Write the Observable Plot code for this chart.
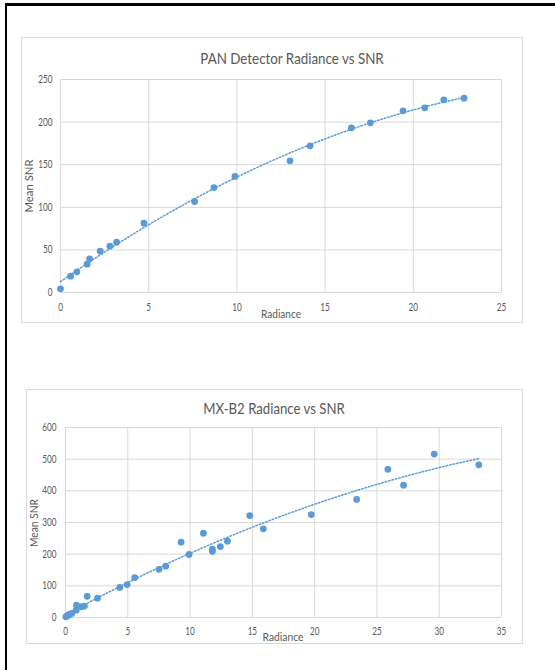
<!DOCTYPE html>
<html>
<head>
<meta charset="utf-8">
<script src="https://cdn.jsdelivr.net/npm/d3@7"></script>
<script src="https://cdn.jsdelivr.net/npm/@observablehq/plot@0.6"></script>
<style>
  html, body { margin: 0; padding: 0; background: #fff; }
  body { width: 555px; height: 670px; position: relative; overflow: hidden;
         font-family: Lato, "Liberation Sans", sans-serif; color: #595959; }
  .abs { position: absolute; }
  .frame { left: 5px; top: 3px; right: -10px; bottom: -10px; border-top: 3px solid #000; border-left: 2px solid #000; }
  .panel { border: 1px solid #d9d9d9; box-sizing: border-box; }
  .title { font-size: 16px; line-height: 16px; white-space: nowrap; }
  .xlab { font-size: 12px; line-height: 12px; white-space: nowrap; }
  .ylab { font-size: 12px; line-height: 12px; white-space: nowrap; }
</style>
</head>
<body>
<div class="abs frame"></div>
<div id="root"></div>
<script>
// ---- Data ----
const panRadiance = [0, 0.57, 0.93, 1.51, 1.65, 2.25, 2.80, 3.18, 4.73, 7.60, 8.70, 9.89, 13.01, 14.15, 16.49, 17.57, 19.42, 20.65, 21.73, 22.88];
const panSNR      = [4.3, 19.2, 24.3, 33.3, 39.5, 48.5, 54.4, 59.1, 81.4, 106.8, 123.2, 136.2, 154.5, 172.1, 193.3, 199.1, 213.2, 216.7, 226.1, 228.1];

const mxRadiance = [0.03, 0.13, 0.25, 0.35, 0.5, 0.86, 0.88, 1.28, 1.52, 1.74, 2.57, 4.36, 4.95, 5.56, 7.51, 8.05, 9.28, 9.92, 11.07, 11.79, 11.79, 12.43, 13.0, 14.79, 15.88, 19.73, 23.37, 25.88, 27.14, 29.6, 33.18];
const mxSNR      = [2, 5, 8, 10, 13, 23, 39, 34, 36, 67, 61, 95, 104, 126, 152, 162, 238, 199, 266, 216, 209, 224, 241, 322, 280, 325, 373, 468, 418, 516, 482];

const panXTicks = [0, 5, 10, 15, 20, 25];
const panYTicks = [0, 50, 100, 150, 200, 250];
const mxXTicks  = [0, 5, 10, 15, 20, 25, 30, 35];
const mxYTicks  = [0, 100, 200, 300, 400, 500, 600];

const titles = ["PAN Detector Radiance vs SNR", "MX-B2 Radiance vs SNR"];
const xLabel = "Radiance";
const yLabel = "Mean SNR";

const FONT = 'Lato, "Liberation Sans", sans-serif';

// ---- Polynomial (order 2) least-squares trendline, computed from data ----
function quadFit(xs, ys) {
  let S = [0,0,0,0,0], T = [0,0,0];
  for (let i = 0; i < xs.length; i++) {
    const x = xs[i], y = ys[i];
    let p = 1;
    for (let k = 0; k < 5; k++) { S[k] += p; if (k < 3) T[k] += p * y; p *= x; }
  }
  const A = [[S[0],S[1],S[2],T[0]],[S[1],S[2],S[3],T[1]],[S[2],S[3],S[4],T[2]]];
  for (let c = 0; c < 3; c++) {
    for (let r = c + 1; r < 3; r++) {
      const f = A[r][c] / A[c][c];
      for (let k = c; k < 4; k++) A[r][k] -= f * A[c][k];
    }
  }
  const b = [0,0,0];
  for (let r = 2; r >= 0; r--) {
    let s = A[r][3];
    for (let k = r + 1; k < 3; k++) s -= A[r][k] * b[k];
    b[r] = s / A[r][r];
  }
  return x => b[0] + b[1] * x + b[2] * x * x;
}

function trend(xs, ys) {
  const f = quadFit(xs, ys);
  const [lo, hi] = d3.extent(xs);
  const n = 120;
  return d3.range(n + 1).map(i => { const x = lo + (hi - lo) * i / n; return {x, y: f(x)}; });
}

// text measuring for condensed look (reference uses a narrow face)
const ctx = document.createElement("canvas").getContext("2d");
function measure(text, size) { ctx.font = size + "px " + FONT; return ctx.measureText(text).width; }
const tickScale = 14.2 / measure("250", 11);

const root = document.getElementById("root");
function addDiv(cls, text, css) {
  const d = document.createElement("div");
  d.className = "abs " + cls;
  if (text) d.textContent = text;
  Object.assign(d.style, css);
  root.appendChild(d);
  return d;
}
// centered text label, horizontally squeezed to a given width
function addLabel(cls, text, cx, cy, size, targetW, rotate) {
  const d = addDiv(cls, text, { left: cx + "px", top: cy + "px" });
  const w = measure(text, size);
  const s = targetW / w;
  if (rotate) {
    d.style.transform = `translate(-50%, -50%) rotate(-90deg) scaleX(${s})`;
  } else {
    d.style.transform = `translate(-50%, -50%) scaleX(${s})`;
  }
  return d;
}

function makeChart(cfg) {
  const data = cfg.xs.map((x, i) => ({x, y: cfg.ys[i]}));
  const chart = Plot.plot({
    width: cfg.w, height: cfg.h,
    marginLeft: cfg.ml, marginRight: cfg.mr, marginTop: cfg.mt, marginBottom: cfg.mb,
    style: { fontFamily: FONT, fontSize: "11px", color: "#595959", background: "transparent", overflow: "visible" },
    x: { domain: [cfg.xTicks[0], cfg.xTicks[cfg.xTicks.length - 1]] },
    y: { domain: [cfg.yTicks[0], cfg.yTicks[cfg.yTicks.length - 1]] },
    marks: [
      Plot.gridX(cfg.xTicks, { stroke: "#d9d9d9", strokeOpacity: 1, strokeWidth: 1 }),
      Plot.gridY(cfg.yTicks, { stroke: "#d9d9d9", strokeOpacity: 1, strokeWidth: 1 }),
      Plot.axisX(cfg.xTicks, { tickSize: 0, tickPadding: cfg.xPad, label: null, fill: "#595959" }),
      Plot.axisY(cfg.yTicks, { tickSize: 0, tickPadding: cfg.yPad, label: null, fill: "#595959" }),
      Plot.line(trend(cfg.xs, cfg.ys), { x: "x", y: "y", stroke: "#5b9bd5", strokeWidth: 1.5, strokeDasharray: "1.5,2", curve: "linear" }),
      Plot.dot(data, { x: "x", y: "y", r: 3.4, fill: "#5b9bd5", stroke: "none" })
    ]
  });
  // squeeze tick labels horizontally around their anchor
  chart.querySelectorAll('g[aria-label$="tick label"] text').forEach(t => {
    const tr = t.getAttribute("transform");
    if (tr) {
      t.setAttribute("transform", tr + ` scale(${tickScale},1)`);
    } else {
      const x = +(t.getAttribute("x") || 0), y = +(t.getAttribute("y") || 0);
      t.setAttribute("transform", `translate(${x},${y}) scale(${tickScale},1) translate(${-x},${-y})`);
    }
  });
  chart.classList.add("abs");
  chart.style.left = cfg.left + "px";
  chart.style.top = cfg.top + "px";
  root.appendChild(chart);
}

// Panel 1
addDiv("panel", null, { left: "21px", top: "37px", width: "502px", height: "286px" });
makeChart({ xs: panRadiance, ys: panSNR, xTicks: panXTicks, yTicks: panYTicks,
  left: 21, top: 37, w: 502, h: 286, ml: 39, mr: 22, mt: 42, mb: 31, xPad: 11, yPad: 8 });
addLabel("title", titles[0], 292, 58, 16, 184);
addLabel("xlab", xLabel, 281, 314, 12, 40);
addLabel("ylab", yLabel, 29, 186, 12, 53, true);

// Panel 2
addDiv("panel", null, { left: "26px", top: "389px", width: "497px", height: "255px" });
makeChart({ xs: mxRadiance, ys: mxSNR, xTicks: mxXTicks, yTicks: mxYTicks,
  left: 26, top: 389, w: 497, h: 255, ml: 39, mr: 22, mt: 38, mb: 27, xPad: 10, yPad: 9 });
addLabel("title", titles[1], 274, 408, 16, 142);
addLabel("xlab", xLabel, 283, 637, 12, 41);
addLabel("ylab", yLabel, 34, 523, 12, 48, true);
</script>
</body>
</html>
